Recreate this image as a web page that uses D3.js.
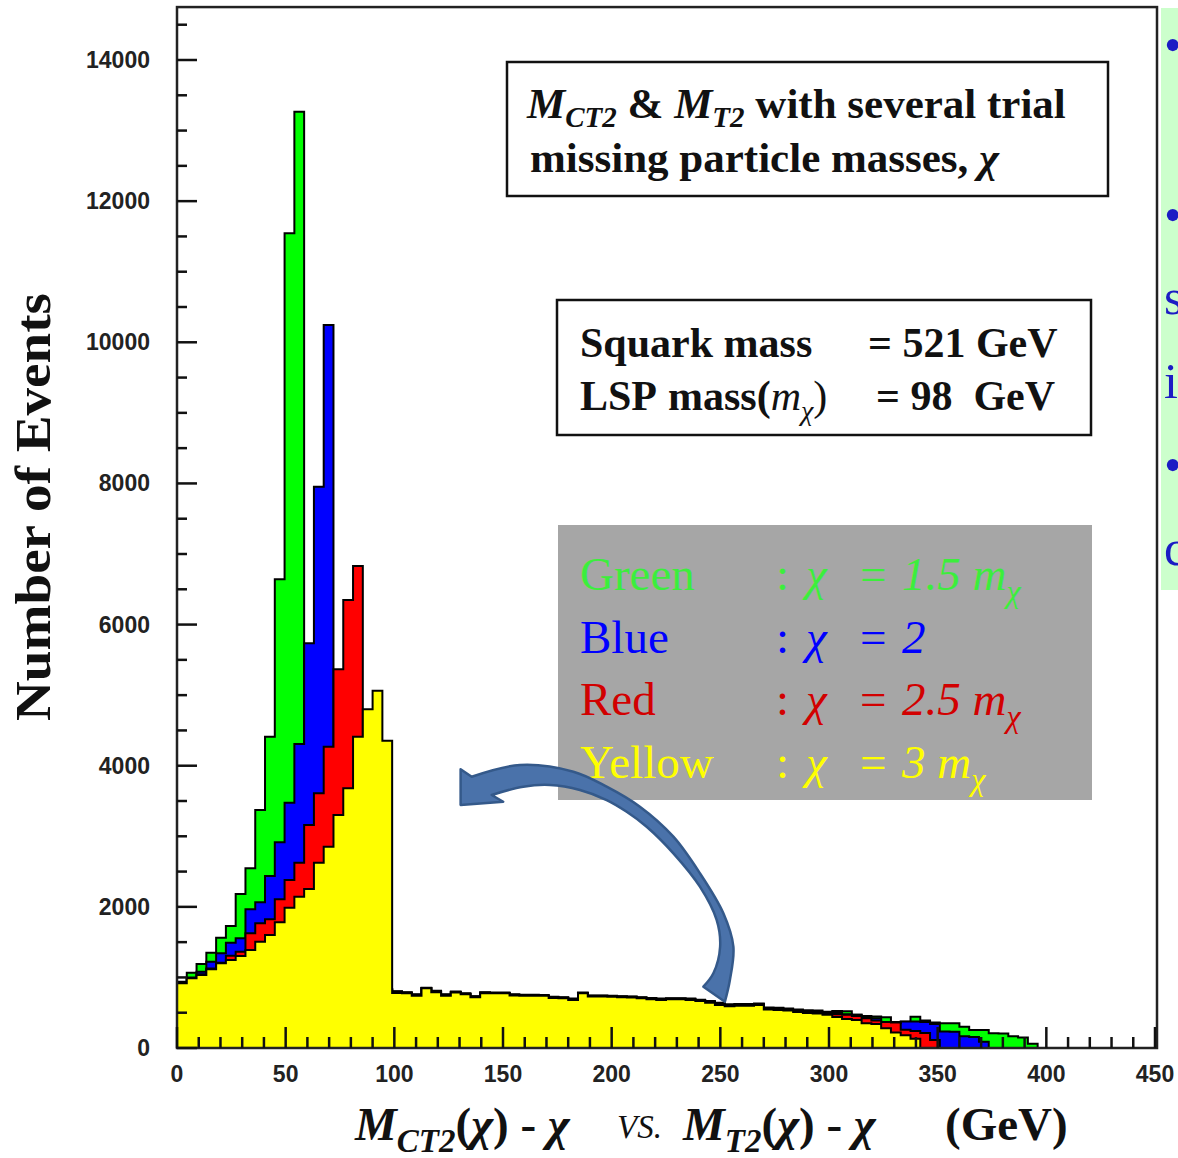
<!DOCTYPE html>
<html>
<head>
<meta charset="utf-8">
<script src="https://cdn.jsdelivr.net/npm/d3@7"></script>
<style>
  body { margin: 0; background: #fff; }
  text { font-family: "Liberation Serif", "Times New Roman", serif; }
  .tick-label { font-family: "Liberation Sans", Arial, sans-serif; font-weight: bold; font-size: 23px; fill: #222; }
</style>
</head>
<body>
<div id="chart"></div>
<script>
// histogram bins: 4.5 GeV wide, starting at 0
const binWidth = 4.5;

// chi = 1.5 m_chi
const green = [940, 1067, 1190, 1351, 1563, 1729, 2182, 2546, 3372, 4412, 6642, 11545, 13268,
  905, 890, 880, 870, 860, 850, 845, 835, 830,
  805, 790, 760, 855, 810, 760, 800, 775, 735, 790, 785, 785, 760, 755, 755, 750, 725, 720,
  700, 785, 745, 745, 740, 735, 730, 720, 710, 700, 705, 705, 700, 685, 665, 640, 620, 625,
  625, 630, 575, 570, 560, 545, 535, 530, 515, 525, 520, 470, 455, 445, 435, 370, 372, 443,
  390, 360, 350, 350, 302, 255, 255, 210, 205, 165, 150, 60];
// chi = 2
const blue = [925, 1000, 1081, 1223, 1342, 1493, 1554, 1965, 2064, 2437, 2914, 3476, 4308, 5735, 7954, 10245,
  880, 870, 860, 850, 845, 835,
  800, 785, 755, 850, 805, 755, 795, 770, 730, 785, 780, 780, 755, 750, 750, 745, 720, 715,
  695, 780, 740, 740, 735, 730, 725, 715, 705, 695, 700, 700, 695, 680, 655, 630, 610, 615,
  615, 625, 560, 555, 545, 530, 520, 515, 500, 495, 480, 470, 430, 420, 360, 355, 375, 375,
  370, 340, 235, 230, 165, 155, 90];
// chi = 2.5 m_chi
const red = [920, 990, 1045, 1125, 1209, 1308, 1365, 1625, 1767, 1823, 2107, 2381, 2626, 3160, 3609, 4270, 5366, 6349, 6830,
  840, 830, 825,
  790, 780, 750, 848, 800, 750, 790, 765, 725, 780, 778, 778, 750, 745, 745, 742, 715, 710,
  690, 778, 735, 735, 730, 725, 720, 710, 700, 690, 695, 695, 690, 675, 650, 620, 600, 610,
  610, 620, 555, 560, 540, 525, 510, 505, 490, 480, 470, 455, 420, 390, 370, 360, 260, 240,
  212, 113];
// chi = 3 m_chi
const yellow = [917, 987, 1034, 1115, 1200, 1247, 1304, 1389, 1507, 1601, 1781, 1988, 2144, 2253, 2626, 2853, 3302, 3680, 4412, 4800, 5063, 4355,
  780, 775, 740, 845, 790, 740, 785, 760, 720, 775, 775, 775, 745, 740, 740, 740, 710, 705,
  680, 775, 730, 730, 725, 720, 715, 705, 690, 680, 690, 690, 680, 665, 640, 610, 590, 600,
  600, 610, 545, 540, 530, 510, 495, 490, 470, 440, 410, 395, 350, 340, 280, 220, 180, 130];

const series = [
  {name: "Green", values: green, fill: "#00ff00"},
  {name: "Blue", values: blue, fill: "#0000ff"},
  {name: "Red", values: red, fill: "#ff0000"},
  {name: "Yellow", values: yellow, fill: "#ffff00"}
];

const xTicks = [0, 50, 100, 150, 200, 250, 300, 350, 400, 450];
const yTicks = [0, 2000, 4000, 6000, 8000, 10000, 12000, 14000];

// legend rows: label, value text, has m_chi
const legendRows = [
  {label: "Green", color: "#3cee3c", value: "1.5", m: true},
  {label: "Blue", color: "#0000ff", value: "2", m: false},
  {label: "Red", color: "#d20000", value: "2.5", m: true},
  {label: "Yellow", color: "#ffff00", value: "3", m: true}
];

// curved arrow outline in (GeV, events)
const arrowOuter = [[135.6, 3844], [157.8, 4010], [182.4, 3915], [197.7, 3703], [213.0, 3419], [228.4, 2994],
  [240.6, 2476], [251.4, 1908], [256.0, 1435], [254.4, 964], [252.1, 656]];
const arrowInner = [[242.2, 869], [246.8, 1058], [249.9, 1435], [248.3, 1814], [240.6, 2286], [228.4, 2759],
  [216.1, 3136], [206.9, 3348], [197.7, 3514], [185.4, 3656], [171.6, 3727], [159.3, 3703], [144.8, 3585]];
const arrowHead = {tip: [130.5, 3443], base1: [130.5, 3949], base2: [150.1, 3490]};

const width = 1178, height = 1158;

const svg = d3.select("#chart")
  .append("svg")
  .attr("width", width)
  .attr("height", height)
  .attr("viewBox", [0, 0, width, height]);

svg.append("rect").attr("width", width).attr("height", height).attr("fill", "#fff");

const x = d3.scaleLinear().domain([0, 450]).range([177, 1155]);
const y = d3.scaleLinear().domain([0, 14000]).range([1048, 60]);

// histograms, overlaid
const line = d3.line().x(d => x(d[0])).y(d => y(d[1]));

svg.append("g")
  .selectAll("path")
  .data(series)
  .join("path")
  .attr("fill", d => d.fill)
  .attr("stroke", "#000")
  .attr("stroke-width", 2)
  .attr("d", d => {
    const pts = [[0, 0]];
    d.values.forEach((v, i) => {
      pts.push([i * binWidth, v]);
      pts.push([(i + 1) * binWidth, v]);
    });
    pts.push([d.values.length * binWidth, 0]);
    return line(pts) + "Z";
  });

// frame
svg.append("rect")
  .attr("x", x(0))
  .attr("y", y(14750))
  .attr("width", x(450) - x(0) + 2)
  .attr("height", y(0) - y(14750))
  .attr("fill", "none")
  .attr("stroke", "#222")
  .attr("stroke-width", 2.5);

// y ticks (inward)
const yMinor = d3.range(0, 14501, 500);
svg.append("g")
  .selectAll("line")
  .data(yMinor)
  .join("line")
  .attr("x1", x(0))
  .attr("x2", d => x(0) + (d % 2000 === 0 ? 20 : 10))
  .attr("y1", d => y(d))
  .attr("y2", d => y(d))
  .attr("stroke", "#111")
  .attr("stroke-width", 2.5);

svg.append("g")
  .selectAll("text")
  .data(yTicks)
  .join("text")
  .attr("class", "tick-label")
  .attr("x", 150)
  .attr("y", d => y(d) + 8)
  .attr("text-anchor", "end")
  .text(d => d);

// x ticks (inward)
const xMinor = d3.range(0, 451, 10);
svg.append("g")
  .selectAll("line")
  .data(xMinor)
  .join("line")
  .attr("x1", d => x(d))
  .attr("x2", d => x(d))
  .attr("y1", y(0))
  .attr("y2", d => y(0) - (d % 50 === 0 ? 21 : 11))
  .attr("stroke", "#111")
  .attr("stroke-width", 2.5);

svg.append("g")
  .selectAll("text")
  .data(xTicks)
  .join("text")
  .attr("class", "tick-label")
  .attr("x", d => x(d))
  .attr("y", 1082)
  .attr("text-anchor", "middle")
  .text(d => d);

// y title
svg.append("text")
  .attr("transform", "translate(50,507) rotate(-90)")
  .attr("text-anchor", "middle")
  .attr("font-weight", "bold")
  .attr("font-size", 50)
  .attr("textLength", 428)
  .attr("lengthAdjust", "spacingAndGlyphs")
  .attr("fill", "#111")
  .text("Number of Events");

// x title
const xt = svg.append("g").attr("font-weight", "bold").attr("fill", "#111");
function massLabel(x0, sub) {
  const t = xt.append("text").attr("x", x0).attr("y", 1140).attr("font-size", 47);
  t.append("tspan").attr("font-style", "italic").text("M");
  t.append("tspan").attr("font-style", "italic").attr("font-size", 33).attr("dy", 12).text(sub);
  t.append("tspan").attr("dy", -12).text("(");
  t.append("tspan").attr("font-style", "italic").text("χ");
  t.append("tspan").text(") - ");
  t.append("tspan").attr("font-style", "italic").text("χ");
}
massLabel(355, "CT2");
xt.append("text").attr("x", 617).attr("y", 1138).attr("font-size", 33)
  .attr("font-style", "italic").attr("font-weight", "normal").text("VS.");
massLabel(683, "T2");
xt.append("text").attr("x", 945).attr("y", 1140).attr("font-size", 47).text("(GeV)");

// title box
svg.append("rect")
  .attr("x", 507).attr("y", 62).attr("width", 601).attr("height", 134)
  .attr("fill", "#fff").attr("stroke", "#111").attr("stroke-width", 2.5);
const t1 = svg.append("text").attr("x", 527).attr("y", 118)
  .attr("font-size", 43).attr("font-weight", "bold").attr("fill", "#111");
t1.append("tspan").attr("font-style", "italic").text("M");
t1.append("tspan").attr("font-style", "italic").attr("font-size", 29).attr("dy", 9).text("CT2");
t1.append("tspan").attr("dy", -9).text(" & ");
t1.append("tspan").attr("font-style", "italic").text("M");
t1.append("tspan").attr("font-style", "italic").attr("font-size", 29).attr("dy", 9).text("T2");
t1.append("tspan").attr("dy", -9).text(" with several trial");
const t2 = svg.append("text").attr("x", 530).attr("y", 172)
  .attr("font-size", 43).attr("font-weight", "bold").attr("fill", "#111");
t2.append("tspan").text("missing particle masses, ");
t2.append("tspan").attr("font-style", "italic").text("χ");

// mass box
svg.append("rect")
  .attr("x", 557).attr("y", 300).attr("width", 534).attr("height", 135)
  .attr("fill", "#fff").attr("stroke", "#111").attr("stroke-width", 2.5);
const mb = svg.append("g").attr("font-size", 42).attr("font-weight", "bold").attr("fill", "#111");
mb.append("text").attr("x", 580).attr("y", 357).text("Squark mass");
mb.append("text").attr("x", 868).attr("y", 357).text("= 521 GeV");
mb.append("text").attr("x", 580).attr("y", 410).text("LSP");
const lm = mb.append("text").attr("x", 668).attr("y", 410);
lm.append("tspan").text("mass(");
lm.append("tspan").attr("font-style", "italic").attr("font-weight", "normal").text("m");
lm.append("tspan").attr("font-style", "italic").attr("font-weight", "normal").attr("font-size", 28).attr("dy", 10).text("χ");
lm.append("tspan").attr("dy", -10).attr("font-weight", "normal").text(")");
mb.append("text").attr("x", 876).attr("y", 410).text("= 98  GeV").attr("xml:space", "preserve");

// legend box
svg.append("rect")
  .attr("x", 558).attr("y", 525).attr("width", 534).attr("height", 275)
  .attr("fill", "#a6a6a6");
const lg = svg.append("g").attr("font-size", 47);
legendRows.forEach((r, i) => {
  const by = 590 + i * 62.5;
  lg.append("text").attr("x", 580).attr("y", by).attr("fill", r.color).text(r.label);
  lg.append("text").attr("x", 776).attr("y", by).attr("fill", r.color).text(":");
  lg.append("text").attr("x", 806).attr("y", by).attr("fill", r.color)
    .attr("font-style", "italic").text("χ");
  lg.append("text").attr("x", 860).attr("y", by).attr("fill", r.color).text("=");
  const v = lg.append("text").attr("x", 902).attr("y", by).attr("fill", r.color).attr("font-style", "italic");
  v.append("tspan").text(r.value);
  if (r.m) {
    v.append("tspan").text(" m");
    v.append("tspan").attr("font-size", 32).attr("dy", 12).text("χ");
  }
});

// curved arrow
const curve = d3.line().x(d => x(d[0])).y(d => y(d[1])).curve(d3.curveCatmullRom);
const arrowPath = "M" + x(arrowHead.tip[0]) + "," + y(arrowHead.tip[1]) +
  "L" + x(arrowHead.base1[0]) + "," + y(arrowHead.base1[1]) +
  curve(arrowOuter).replace(/^M/, "L") +
  curve(arrowInner).replace(/^M/, "L") +
  "L" + x(arrowHead.base2[0]) + "," + y(arrowHead.base2[1]) + "Z";
svg.append("path")
  .attr("d", arrowPath)
  .attr("fill", "#4a72aa")
  .attr("stroke", "#34598a")
  .attr("stroke-width", 2.5)
  .attr("stroke-linejoin", "round");

// side panel on the right, cut by the picture edge
svg.append("rect")
  .attr("x", 1161).attr("y", 8).attr("width", 30).attr("height", 582)
  .attr("fill", "#ccffcc");
const side = svg.append("g").attr("font-size", 50).attr("fill", "#1c1cc4");
[["•", 62], ["•", 232], ["s", 314], ["i", 398], ["•", 482], ["c", 565]].forEach(([s, yy]) => {
  side.append("text").attr("x", 1164).attr("y", yy).text(s);
});
</script>
</body>
</html>
